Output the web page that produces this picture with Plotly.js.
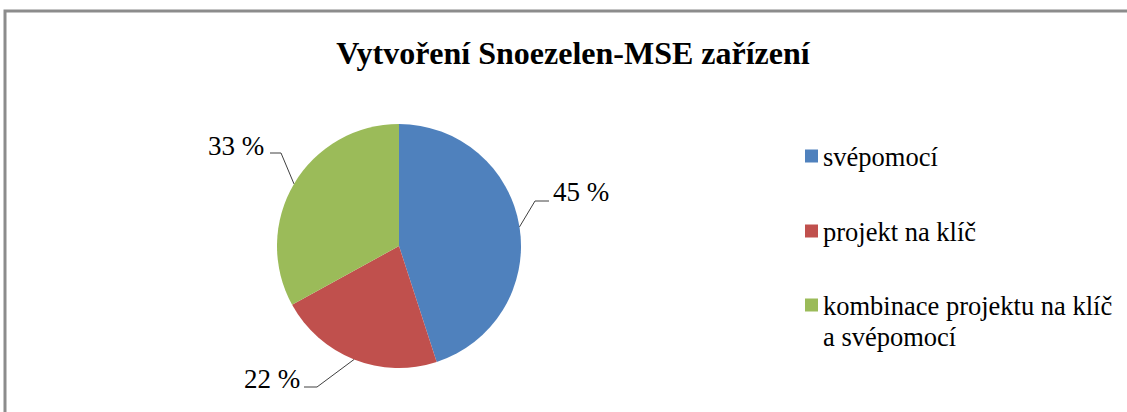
<!DOCTYPE html>
<html>
<head>
<meta charset="utf-8">
<script src="https://cdn.plot.ly/plotly-3.0.1.min.js"></script>
<style>html,body{margin:0;padding:0;background:#fff;}#chart{width:1127px;height:412px;}</style>
</head>
<body>
<div id="chart"></div>
<script>
// ---- data ----
const categories = ['svépomocí', 'projekt na klíč', 'kombinace projektu na klíč<br>a svépomocí'];
const values = [45, 22, 33];
const percentLabels = ['45 %', '22 %', '33 %'];
const colors = ['#4F81BD', '#C0504D', '#9BBB59'];
const chartTitle = 'Vytvoření Snoezelen-MSE zařízení';

// ---- layout (pixels) ----
const W = 1127, H = 412;
const CX = 399, CY = 246, R = 122;
const FONT = 'Liberation Serif';
const labelLayout = [
  {elbow: [535, 201], end: [549, 201], text: [551, 192], anchor: 'left'},
  {elbow: [317, 387], end: [304, 387], text: [302, 379], anchor: 'right'},
  {elbow: [281, 153], end: [270, 153], text: [266, 146], anchor: 'right'}
];
const legendRows = [156, 231, 305];
const legendLineGap = 31;

const px = x => x / W;
const py = y => 1 - y / H;

const total = values.reduce((a, b) => a + b, 0);
const shapes = [];
const annotations = [];

// border frame
shapes.push({type: 'rect', xref: 'paper', yref: 'paper', x0: px(5), y0: py(11), x1: px(W + 20), y1: py(H + 20),
  line: {color: '#8c8c8c', width: 3}, fillcolor: 'rgba(0,0,0,0)', layer: 'below'});

// leader lines + percentage labels
let cum = 0;
values.forEach((v, i) => {
  const mid = (cum + v / 2) / total * 2 * Math.PI;
  cum += v;
  const sx = CX + R * Math.sin(mid), sy = CY - R * Math.cos(mid);
  const L = labelLayout[i];
  shapes.push({type: 'path', xref: 'paper', yref: 'paper',
    path: `M ${px(sx)},${py(sy)} L ${px(L.elbow[0])},${py(L.elbow[1])} L ${px(L.end[0])},${py(L.end[1])}`,
    line: {color: '#404040', width: 1}});
  annotations.push({xref: 'paper', yref: 'paper', x: px(L.text[0]), y: py(L.text[1]),
    xanchor: L.anchor, yanchor: 'middle', showarrow: false, text: percentLabels[i],
    font: {family: FONT, size: 27, color: '#000'}});
});

// custom legend
categories.forEach((c, i) => {
  const yc = legendRows[i];
  shapes.push({type: 'rect', xref: 'paper', yref: 'paper', x0: px(805), x1: px(818), y0: py(yc - 6.5), y1: py(yc + 6.5),
    fillcolor: colors[i], line: {width: 0}});
  c.split('<br>').forEach((line, j) => {
    annotations.push({xref: 'paper', yref: 'paper', x: px(821), y: py(yc + 1 + j * legendLineGap),
      xanchor: 'left', yanchor: 'middle', showarrow: false, text: line,
      font: {family: FONT, size: 26.5, color: '#000'}});
  });
});

const trace = {
  type: 'pie',
  labels: categories,
  values: values,
  sort: false,
  direction: 'clockwise',
  rotation: 0,
  textinfo: 'none',
  hoverinfo: 'label+percent',
  marker: {colors: colors, line: {width: 0}},
  domain: {x: [px(CX - R), px(CX + R)], y: [py(CY + R), py(CY - R)]},
  showlegend: false
};

const layout = {
  width: W, height: H,
  margin: {l: 0, r: 0, t: 0, b: 0},
  paper_bgcolor: '#fff',
  showlegend: false,
  title: {text: '<b>' + chartTitle + '</b>', x: px(573), xanchor: 'center', xref: 'paper',
    y: 1 - 53 / H, yref: 'container', yanchor: 'middle',
    font: {family: FONT, size: 32, color: '#000'}},
  shapes: shapes,
  annotations: annotations
};

Plotly.newPlot('chart', [trace], layout, {displayModeBar: false, staticPlot: true});
</script>
</body>
</html>
